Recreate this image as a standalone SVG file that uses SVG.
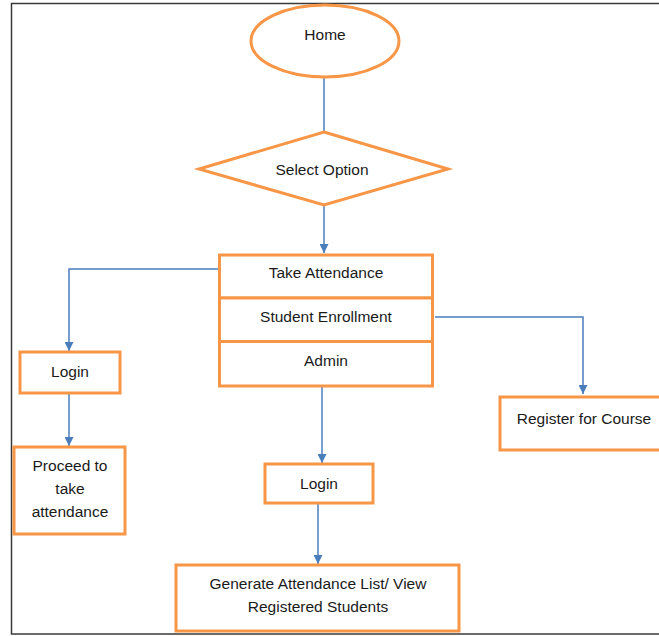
<svg xmlns="http://www.w3.org/2000/svg" width="659" height="636" viewBox="0 0 659 636">
  <defs>
    <marker id="arrow" viewBox="0 0 10 10" refX="10" refY="5" markerWidth="9" markerHeight="9" markerUnits="userSpaceOnUse" orient="auto">
      <path d="M0,0 L10,5 L0,10 z" fill="#4a7ebb"/>
    </marker>
    <style>
      .shape { fill: #ffffff; stroke: #f79646; stroke-width: 3; }
      .edge { fill: none; stroke: #4a7ebb; stroke-width: 1.5; }
      .label { font-family: "Liberation Sans", Arial, sans-serif; font-size: 15.5px; fill: #1a1a1a; text-anchor: middle; }
      .frame { fill: none; stroke: #3a3a3a; stroke-width: 1.5; }
    </style>
  </defs>

  <rect x="0" y="0" width="659" height="636" fill="#ffffff"/>
  <rect class="frame" x="11.5" y="3.5" width="700" height="630.5"/>

  <g id="connectors">
    <line class="edge" x1="324" y1="77" x2="324" y2="132"/>
    <line class="edge" x1="324" y1="205" x2="324" y2="253" marker-end="url(#arrow)"/>
    <polyline class="edge" points="219,269 69,269 69,351" marker-end="url(#arrow)"/>
    <line class="edge" x1="69" y1="393" x2="69" y2="446" marker-end="url(#arrow)"/>
    <polyline class="edge" points="435,317 583,317 583,394" marker-end="url(#arrow)"/>
    <line class="edge" x1="322" y1="386" x2="322" y2="463" marker-end="url(#arrow)"/>
    <line class="edge" x1="318" y1="503" x2="318" y2="564" marker-end="url(#arrow)"/>
  </g>

  <g id="home">
    <ellipse class="shape" cx="325" cy="41" rx="74" ry="36"/>
    <text class="label" x="325" y="39.5">Home</text>
  </g>

  <g id="select-option">
    <polygon class="shape" points="324,132 448,169 324,205 199,169"/>
    <text class="label" x="322" y="174.5">Select Option</text>
  </g>

  <g id="take-attendance">
    <rect class="shape" x="219.5" y="255" width="213" height="43"/>
    <text class="label" x="326" y="277.5">Take Attendance</text>
  </g>

  <g id="student-enrollment">
    <rect class="shape" x="219.5" y="298" width="213" height="43.5"/>
    <text class="label" x="326" y="321.5">Student Enrollment</text>
  </g>

  <g id="admin">
    <rect class="shape" x="219.5" y="341.5" width="213" height="44.5"/>
    <text class="label" x="326" y="365.5">Admin</text>
  </g>

  <g id="login-attendance">
    <rect class="shape" x="20" y="352" width="100" height="41"/>
    <text class="label" x="70" y="376.5">Login</text>
  </g>

  <g id="proceed">
    <rect class="shape" x="14" y="447" width="111" height="87"/>
    <text class="label" x="70" y="470.5">Proceed to</text>
    <text class="label" x="70" y="493.5">take</text>
    <text class="label" x="70" y="516.5">attendance</text>
  </g>

  <g id="register-course">
    <rect class="shape" x="500" y="397" width="170" height="53"/>
    <text class="label" x="584" y="423.5">Register for Course</text>
  </g>

  <g id="login-admin">
    <rect class="shape" x="265" y="464" width="108" height="39"/>
    <text class="label" x="319" y="488.5">Login</text>
  </g>

  <g id="generate-list">
    <rect class="shape" x="176" y="565" width="283" height="66"/>
    <text class="label" x="318" y="588.5">Generate Attendance List/ View</text>
    <text class="label" x="318" y="611.5">Registered Students</text>
  </g>
</svg>
